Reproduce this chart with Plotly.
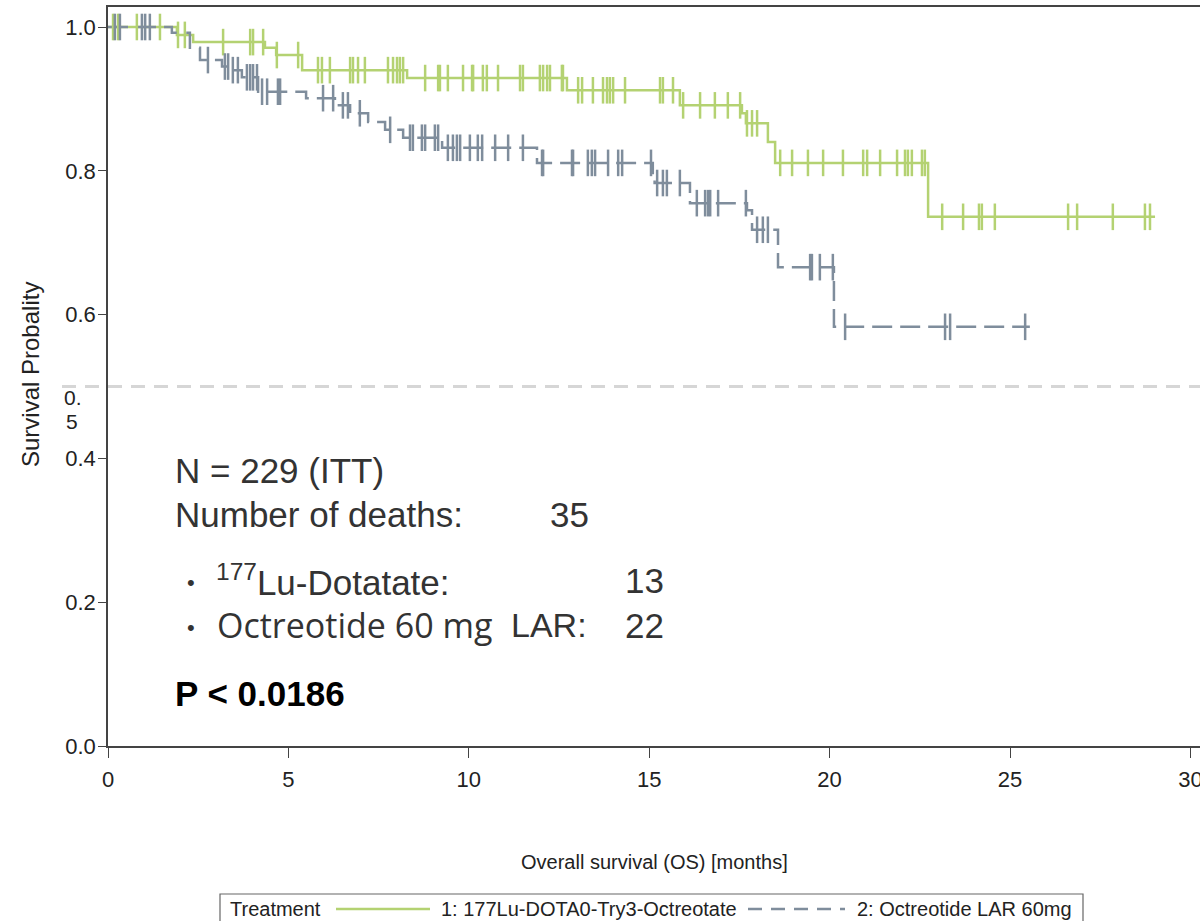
import numpy as np
import plotly.graph_objects as go

# ---------------- data ----------------
green_name = "1: 177Lu-DOTA0-Try3-Octreotate"
grey_name = "2: Octreotide LAR 60mg"

green_step_t = [0.0, 1.91, 2.36, 4.35, 4.66, 5.38, 8.29, 12.72, 15.85, 17.57, 17.68, 18.29, 18.49, 22.73]
green_step_s = [1.0, 0.989, 0.979, 0.971, 0.961, 0.940, 0.929, 0.912, 0.891, 0.880, 0.866, 0.840, 0.811, 0.736]
green_end_t = 29.02
green_censor_t = [0.14, 0.28, 0.80, 1.44, 1.94, 2.13, 3.19, 3.94, 4.02, 4.30, 4.68, 5.27, 5.82, 5.93,
                  6.15, 6.71, 6.79, 6.93, 7.12, 7.76, 7.90, 8.01, 8.09, 8.18, 8.79, 9.15, 9.20, 9.42,
                  9.84, 10.09, 10.12, 10.39, 10.50, 10.81, 11.42, 11.50, 11.97, 12.06, 12.17, 12.25,
                  12.58, 12.61, 13.03, 13.14, 13.44, 13.72, 13.83, 13.91, 14.00, 14.33, 15.30, 15.38,
                  15.66, 15.94, 16.41, 16.82, 17.18, 17.52, 17.71, 17.85, 17.99, 18.63, 18.96, 19.40,
                  19.82, 20.37, 20.93, 21.04, 21.40, 21.87, 22.09, 22.17, 22.28, 22.56, 22.64, 23.12,
                  23.70, 24.14, 24.22, 24.58, 26.61, 26.86, 27.85, 28.74, 28.88]

grey_step_t = [0.0, 1.77, 2.27, 2.55, 3.16, 3.44, 3.71, 4.16, 5.49, 6.29, 6.71, 7.21, 7.68, 8.18,
               9.26, 11.89, 15.10, 15.15, 16.13, 17.71, 17.85, 18.57, 20.12]
grey_step_s = [1.0, 0.992, 0.971, 0.954, 0.945, 0.940, 0.930, 0.910, 0.901, 0.891, 0.880, 0.868,
               0.857, 0.846, 0.832, 0.811, 0.797, 0.783, 0.755, 0.745, 0.718, 0.666, 0.583]
grey_end_t = 25.55
grey_censor_t = [0.19, 0.33, 0.94, 1.03, 1.16, 2.77, 3.24, 3.33, 3.46, 3.60, 3.85, 3.94, 4.02, 4.13,
                 4.27, 4.41, 4.71, 4.77, 5.96, 6.24, 6.51, 6.65, 6.98, 7.82, 8.37, 8.45, 8.70, 8.79,
                 9.06, 9.15, 9.42, 9.56, 9.67, 9.76, 10.03, 10.25, 10.37, 10.73, 11.09, 11.50, 12.03,
                 12.06, 12.86, 12.89, 13.30, 13.41, 13.50, 13.86, 14.14, 14.25, 15.05, 15.22, 15.38,
                 15.49, 15.85, 16.32, 16.55, 16.63, 16.69, 16.91, 17.68, 17.99, 18.15, 18.29, 19.46,
                 19.51, 19.73, 20.09, 20.43, 23.20, 23.34, 25.42]

x_ticks = [0, 5, 10, 15, 20, 25, 30]
y_ticks = [0.0, 0.2, 0.4, 0.6, 0.8, 1.0]
y_ticktext = ["0.0", "0.2", "0.4", "0.6", "0.8", "1.0"]
median_line = 0.5

GREEN = "#b4d272"
GREY = "#7f8d9c"
FONT = "Liberation Sans, Arial, sans-serif"

# ---------------- layout geometry (pixels) ----------------
W, H = 1200, 921
L, R, T, B = 108, 0, 7, 175
PW, PH = W - L - R, H - T - B


def px(xp):
    return (xp - L) / PW


def py(yp):
    return (H - B - yp) / PH


def censor_y(step_t, step_s, times):
    idx = np.searchsorted(np.array(step_t), np.array(times), side="right") - 1
    return [step_s[i] for i in idx]


fig = go.Figure()

# survival step curves
fig.add_trace(go.Scatter(x=green_step_t + [green_end_t], y=green_step_s + [green_step_s[-1]],
                         mode="lines", line=dict(color=GREEN, width=2.5, shape="hv"),
                         name=green_name, showlegend=False))
fig.add_trace(go.Scatter(x=grey_step_t + [grey_end_t], y=grey_step_s + [grey_step_s[-1]],
                         mode="lines", line=dict(color=GREY, width=2.5, shape="hv", dash="20px,8px"),
                         name=grey_name, showlegend=False))
# censor marks
fig.add_trace(go.Scatter(x=green_censor_t, y=censor_y(green_step_t, green_step_s, green_censor_t),
                         mode="markers",
                         marker=dict(symbol="line-ns-open", size=19, color=GREEN,
                                     line=dict(color=GREEN, width=2.5)),
                         showlegend=False))
fig.add_trace(go.Scatter(x=grey_censor_t, y=censor_y(grey_step_t, grey_step_s, grey_censor_t),
                         mode="markers",
                         marker=dict(symbol="line-ns-open", size=19, color=GREY,
                                     line=dict(color=GREY, width=2.5)),
                         showlegend=False))

shapes = []
# 0.5 reference line (extends left of the axis)
shapes.append(dict(type="line", xref="paper", yref="y", x0=px(62), x1=px(1200), y0=median_line, y1=median_line,
                   line=dict(color="#d6d6d6", width=3, dash="14px,9px"), layer="below"))
# legend box and samples
shapes.append(dict(type="rect", xref="paper", yref="paper", x0=px(220), x1=px(1083), y0=py(930), y1=py(894),
                   line=dict(color="#666666", width=1.2), fillcolor="rgba(0,0,0,0)"))
shapes.append(dict(type="line", xref="paper", yref="paper", x0=px(336), x1=px(430), y0=py(909), y1=py(909),
                   line=dict(color=GREEN, width=2.5)))
shapes.append(dict(type="line", xref="paper", yref="paper", x0=px(748), x1=px(845), y0=py(909), y1=py(909),
                   line=dict(color=GREY, width=2.5, dash="14px,9px")))

ann = []


def add_text(text, x, y, size, color="#333333", xanchor="left", family=FONT, **kw):
    ann.append(dict(text=text, x=px(x), y=py(y), xref="paper", yref="paper", showarrow=False,
                    xanchor=xanchor, yanchor="middle", font=dict(size=size, color=color, family=family), **kw))


# axis titles
add_text("Overall survival (OS) [months]", 654, 862, 20, color="#222222", xanchor="center")
add_text("Survival Probality", 30, 375, 24, color="#222222", xanchor="center", textangle=-90)
# odd 0.5 label
add_text("0.", 62, 397, 21, color="#222222")
add_text("5", 64, 421, 21, color="#222222")
# info block
add_text("N = 229 (ITT)", 173, 470, 35)
add_text("Number of deaths:", 173, 514, 35)
add_text("35", 548, 514, 35)
add_text("•", 185, 582, 22)
add_text("<sup>177</sup>Lu-Dotatate:", 214, 580, 35)
add_text("13", 666, 580, 35, xanchor="right")
add_text("•", 185, 627, 22)
add_text("Octreotide 60 mg", 215, 625, 34, family="Open Sans, Noto Sans, sans-serif")
add_text("LAR:", 509, 625, 34)
add_text("22", 666, 625, 35, xanchor="right")
add_text("<b>P &lt; 0.0186</b>", 173, 693, 35, color="#000000")
# legend texts
add_text("Treatment", 228, 909, 20, color="#222222")
add_text(green_name, 439, 909, 20, color="#222222")
add_text(grey_name, 855, 909, 20, color="#222222")

fig.update_layout(
    width=W, height=H, margin=dict(l=L, r=R, t=T, b=B, pad=0, autoexpand=False),
    paper_bgcolor="white", plot_bgcolor="white", showlegend=False,
    shapes=shapes, annotations=ann,
    font=dict(family=FONT, color="#222222"),
)
fig.update_xaxes(range=[0, PW / 36.08], tickvals=x_ticks, ticks="outside", ticklen=10, tickwidth=1.3,
                 tickcolor="#444444", showline=True, linecolor="#444444", linewidth=1.5, mirror=True,
                 showgrid=False, zeroline=False, tickfont=dict(size=22, color="#222222"),
                 ticklabelstandoff=3, automargin=False, ticklabeloverflow="allow")
fig.update_yaxes(range=[0, PH / 719.0], tickvals=y_ticks, ticktext=y_ticktext, ticks="outside", ticklen=8,
                 tickwidth=1.3, tickcolor="#444444", showline=True, linecolor="#444444", linewidth=1.5,
                 showgrid=False, zeroline=False, tickfont=dict(size=22, color="#222222"),
                 ticklabelstandoff=-2, automargin=False, ticklabeloverflow="allow")

fig.write_html("out.html", config={"displayModeBar": False},
               post_script="document.body.style.margin='0';document.body.style.overflow='hidden';")
